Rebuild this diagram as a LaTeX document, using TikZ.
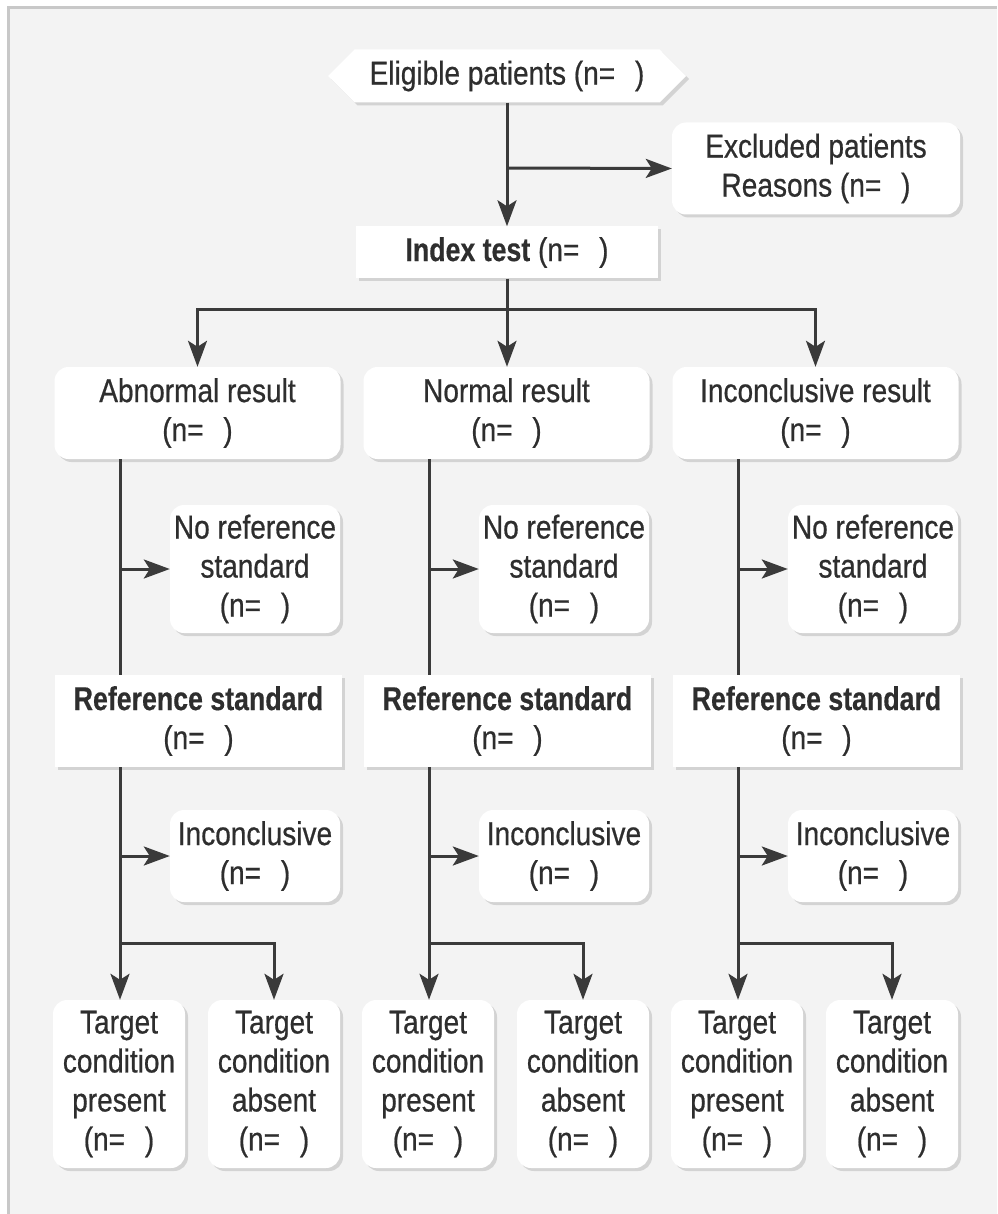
\documentclass[tikz,border=0pt]{standalone}
\usepackage{fontspec}
\setmainfont{Liberation Sans}[FakeStretch=0.85, FakeBold=0.6, BoldFeatures={FakeStretch=0.81, FakeBold=0.4}]
\usetikzlibrary{shapes.symbols, shadows, arrows.meta}
\definecolor{bgcol}{HTML}{F3F3F3}
\definecolor{framecol}{HTML}{C8C8C8}
\definecolor{lncol}{HTML}{3A3A3A}
\definecolor{txcol}{HTML}{2E2E2E}
\newcommand\nnum{(n=\hspace{0.6em})}
\begin{document}
\begin{tikzpicture}[x=1pt,y=-1pt,
  every node/.style={text=txcol, font=\fontsize{33}{39}\selectfont},
  box/.style={fill=white, inner sep=0pt, align=center,
    drop shadow={shadow xshift=3pt, shadow yshift=-3pt, opacity=0.13, fill=black}},
  rbox/.style={box, rounded corners=14pt},
  link/.style={draw=lncol, line width=3pt},
  arr/.style={link, -{Stealth[length=26pt,width=19pt,inset=6pt]}}]
% background and frame
\useasboundingbox (0,0) rectangle (997,1214);
\fill[white] (0,0) rectangle (997,1214);
\fill[framecol] (7,6) rectangle (997,1214);
\fill[bgcol] (10,9) rectangle (997,1214);
% top part
\node[shape=signal, signal to=west and east, signal pointer angle=90, box,
  minimum width=358pt, minimum height=53pt] (elig) at (507,76) {Eligible patients \nnum};
\node[rbox, minimum width=288pt, minimum height=92pt] (excl) at (816,168.5)
  {Excluded patients\\Reasons \nnum};
\node[box, minimum width=302pt, minimum height=52pt] (index) at (507,252.5)
  {\textbf{Index test} \nnum};
% columns
\foreach \i/\o/\t in {1/0/Abnormal result, 2/309/Normal result, 3/618/Inconclusive result}{
  \node[rbox, minimum width=286pt, minimum height=92pt] (res\i) at (197.5+\o,413) {\t\\\nnum};
  \node[rbox, minimum width=170pt, minimum height=128pt] (noref\i) at (255+\o,569)
    {No reference\\standard\\\nnum};
  \node[box, minimum width=287pt, minimum height=92pt] (ref\i) at (198.5+\o,721)
    {\textbf{Reference standard}\\\nnum};
  \node[rbox, minimum width=170pt, minimum height=92pt] (incl\i) at (255+\o,856)
    {Inconclusive\\\nnum};
  \node[rbox, minimum width=132pt, minimum height=168pt] (tp\i) at (119+\o,1084)
    {Target\\condition\\present\\\nnum};
  \node[rbox, minimum width=132pt, minimum height=168pt] (ta\i) at (274+\o,1084)
    {Target\\condition\\absent\\\nnum};
}
% connectors top
\coordinate (b0) at (507,168);
\coordinate (b1) at (507,309);
\draw[arr] (elig.south) -- (index.north);
\draw[arr] (b0) -- (excl.west);
\draw[link] (index.south) -- (b1);
\draw[arr] (b1) -| (res1.north);
\draw[arr] (b1) -- (b1 |- res2.north);
\draw[arr] (b1) -| (res3.north);
% connectors per column
\foreach \i/\o in {1/0, 2/309, 3/618}{
  \coordinate (v\i) at (120+\o,569);
  \coordinate (w\i) at (120+\o,856);
  \coordinate (j\i) at (120+\o,943);
  \draw[link] (v\i |- res\i.south) -- (v\i |- ref\i.north);
  \draw[arr] (v\i) -- (noref\i.west);
  \draw[arr] (v\i |- ref\i.south) -- (v\i |- tp\i.north);
  \draw[arr] (w\i) -- (incl\i.west);
  \draw[arr] (j\i) -| (ta\i.north);
}
\end{tikzpicture}
\end{document}
